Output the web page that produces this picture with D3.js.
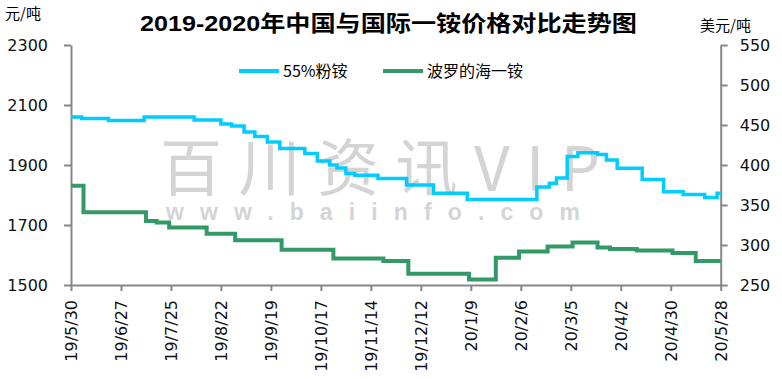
<!DOCTYPE html>
<html><head><meta charset="utf-8">
<script src="https://cdn.jsdelivr.net/npm/d3@7/dist/d3.min.js"></script>
<style>
html,body{margin:0;padding:0;background:#fff;}
svg{display:block;}
</style></head>
<body><svg id="c" width="782" height="379"></svg>
<script>
// ---- data ----
const titleText = "2019-2020年中国与国际一铵价格对比走势图";
const leftUnit = "元/吨";
const rightUnit = "美元/吨";
const seriesNames = ["55%粉铵", "波罗的海一铵"];
const xTickLabels = ["19/5/30","19/6/27","19/7/25","19/8/22","19/9/19","19/10/17","19/11/14","19/12/12","20/1/9","20/2/6","20/3/5","20/4/2","20/4/30","20/5/28"];
const leftTicks = [1500, 1700, 1900, 2100, 2300];
const rightTicks = [250, 300, 350, 400, 450, 500, 550];

// 55%粉铵 (元/吨) — dates where the price changes
const powderDates = ["2019-05-30","2019-06-05","2019-06-20","2019-07-10","2019-08-07","2019-08-22","2019-08-28","2019-09-04","2019-09-10","2019-09-17","2019-09-24","2019-10-08","2019-10-15","2019-10-22","2019-10-26","2019-10-31","2019-11-05","2019-11-18","2019-12-04","2019-12-19","2020-01-07","2020-02-15","2020-02-22","2020-02-26","2020-03-03","2020-03-09","2020-03-20","2020-03-25","2020-03-31","2020-04-14","2020-04-26","2020-05-07","2020-05-19","2020-05-26","2020-05-28"];
const powderValues = [2060,2055,2048,2060,2050,2037,2030,2010,1995,1977,1955,1938,1913,1900,1890,1872,1866,1855,1833,1806,1785,1827,1839,1857,1928,1941,1935,1917,1889,1852,1811,1802,1792,1806,1806];

// 波罗的海一铵 (美元/吨)
const balticDates = ["2019-05-30","2019-06-06","2019-07-11","2019-07-17","2019-07-24","2019-08-14","2019-08-30","2019-09-25","2019-10-24","2019-11-21","2019-12-05","2020-01-08","2020-01-23","2020-02-05","2020-02-21","2020-03-06","2020-03-20","2020-03-27","2020-04-11","2020-05-01","2020-05-14","2020-05-28"];
const balticValues = [374,341,330,328,322,314,306,294,283,280,264,257,284,292,298,303,297,295,293,290,280,280];

// ---- drawing ----
const svg = d3.select("#c");
const parse = d3.timeParse("%Y-%m-%d");
const parseTick = s => { const p = s.split("/"); return new Date(2000 + +p[0], +p[1] - 1, +p[2]); };
const tickDates = xTickLabels.map(parseTick);

const x = d3.scaleTime().domain([tickDates[0], tickDates[tickDates.length - 1]]).range([71, 720.7]);
const yL = d3.scaleLinear().domain([1500, 2300]).range([285, 45]);
const yR = d3.scaleLinear().domain([250, 550]).range([285, 45]);

const axisColor = "#878787";
const tickFont = "'DejaVu Sans', Verdana, sans-serif";
const cjk = "'Noto Sans CJK SC', sans-serif";

// watermark
svg.append("text").attr("x", 160).attr("y", 191)
  .attr("font-family", cjk).attr("font-size", 62).attr("font-weight", 400)
  .attr("fill", "#d4d4d4").attr("textLength", 440).attr("lengthAdjust", "spacing")
  .text("百川资讯VIP");
svg.append("text").attr("x", 166).attr("y", 220)
  .attr("font-family", "'Liberation Sans', Arial, sans-serif").attr("font-size", 23).attr("font-weight", "bold")
  .attr("fill", "#d4d4d4").attr("textLength", 414).attr("lengthAdjust", "spacing")
  .text("www.baiinfo.com");

// axes
const styleAxis = g => {
  g.select(".domain").attr("stroke", axisColor).attr("stroke-width", 2);
  g.selectAll(".tick line").attr("stroke", axisColor).attr("stroke-width", 2);
  g.selectAll(".tick text").attr("fill", "#111").attr("font-family", tickFont).attr("font-size", 16);
};

const gL = svg.append("g").attr("transform", "translate(71,0)")
  .call(d3.axisLeft(yL).tickValues(leftTicks).tickFormat(d3.format("d")).tickSize(7).tickSizeOuter(0).tickPadding(16));
styleAxis(gL);

const gR = svg.append("g").attr("transform", "translate(720.7,0)")
  .call(d3.axisRight(yR).tickValues(rightTicks).tickFormat(d3.format("d")).tickSize(7).tickSizeOuter(0).tickPadding(12));
styleAxis(gR);

const gX = svg.append("g").attr("transform", "translate(0,285)")
  .call(d3.axisBottom(x).tickValues(tickDates).tickFormat((d, i) => xTickLabels[i]).tickSize(6).tickSizeOuter(0));
styleAxis(gX);
gX.selectAll(".tick text")
  .attr("transform", "rotate(-90)")
  .attr("text-anchor", "end")
  .attr("x", -15).attr("y", 0).attr("dy", "0.35em");

// lines
const powder = powderDates.map((d, i) => ({ date: parse(d), v: powderValues[i] }));
const baltic = balticDates.map((d, i) => ({ date: parse(d), v: balticValues[i] }));

svg.append("path").datum(baltic)
  .attr("fill", "none").attr("stroke", "#339966").attr("stroke-width", 4)
  .attr("d", d3.line().x(d => x(d.date)).y(d => yR(d.v)).curve(d3.curveStepAfter));
svg.append("path").datum(powder)
  .attr("fill", "none").attr("stroke", "#00ccff").attr("stroke-width", 3.5)
  .attr("d", d3.line().x(d => x(d.date)).y(d => yL(d.v)).curve(d3.curveStepAfter));

// title and units
svg.append("text").attr("x", 140).attr("y", 31)
  .attr("font-family", "'Liberation Sans', Arial, 'Noto Sans CJK SC', sans-serif")
  .attr("font-size", 22).attr("font-weight", "bold").attr("fill", "#000")
  .attr("textLength", 497).attr("lengthAdjust", "spacingAndGlyphs").text(titleText);
svg.append("text").attr("x", 5).attr("y", 19).attr("font-family", cjk).attr("font-size", 15).attr("fill", "#000").text(leftUnit);
svg.append("text").attr("x", 700).attr("y", 31).attr("font-family", cjk).attr("font-size", 15).attr("fill", "#000").text(rightUnit);

// legend
const legend = [
  { name: seriesNames[0], color: "#00ccff", x0: 239 },
  { name: seriesNames[1], color: "#339966", x0: 383 }
];
legend.forEach(l => {
  svg.append("line").attr("x1", l.x0).attr("x2", l.x0 + 40).attr("y1", 71).attr("y2", 71)
    .attr("stroke", l.color).attr("stroke-width", 4);
  svg.append("text").attr("x", l.x0 + 44).attr("y", 77).attr("font-family", cjk)
    .attr("font-size", 16).attr("fill", "#000").text(l.name);
});
</script></body></html>
